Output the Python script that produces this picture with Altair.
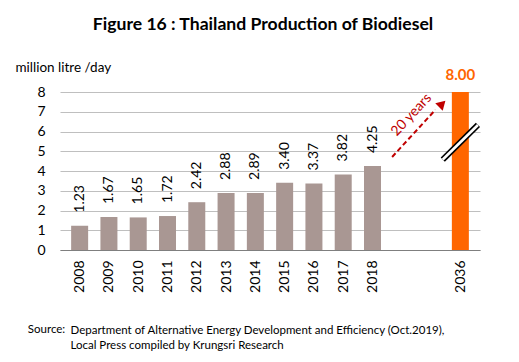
import altair as alt
import pandas as pd

# ---- data ----
years = ["2008", "2009", "2010", "2011", "2012", "2013", "2014",
         "2015", "2016", "2017", "2018", "2036"]
values = [1.23, 1.67, 1.65, 1.72, 2.42, 2.88, 2.89, 3.40, 3.37, 3.82, 4.25, 8.00]
slots = [0, 1, 2, 3, 4, 5, 6, 7, 8, 9, 10, 13]   # category slot (gap before 2036)
kind = ["actual"] * 11 + ["target"]
y_ticks = [0, 1, 2, 3, 4, 5, 6, 7, 8]

# annotation anchors (in slot / value units)
arrow_from = (10.67, 4.71)
arrow_to = (12.15, 7.10)
arrow_tip = (12.38, 7.40)
arrow_label = ("20 years", 11.33, 6.84)
break_from = (12.4, 4.58)
break_to = (13.6, 6.33)
source_anchor = ("Source:", -1.77, -3.75)

title_text = "Figure 16 : Thailand Production of Biodiesel"
y_title = "million litre /day"
source_lines = [
    "Department of Alternative Energy Development and Efficiency (Oct.2019),",
    "Local Press compiled by Krungsri Research",
]

FONT = "Lato"
BAR = "#a99793"
ORANGE = "#ff6600"
RED = "#c00000"

df = pd.DataFrame({"year": years, "value": values, "slot": slots, "kind": kind})

label_expr = "[" + ",".join(f"'{y}'" for y in years) + "][indexof([" + \
    ",".join(str(s) for s in slots) + "], datum.value)]"

x_scale = alt.Scale(domain=[-0.5, 13.5], nice=False, zero=False)
y_scale = alt.Scale(domain=[0, 8], nice=False)

x_axis = alt.Axis(values=slots, labelExpr=label_expr, grid=False, ticks=False,
                  domainColor="#7f7f7f", domainWidth=1.2, labelOverlap=False,
                  labelAngle=270, labelAlign="right", labelBaseline="middle",
                  labelPadding=10, labelFont=FONT, labelFontSize=14,
                  labelColor="#000000",
                  titleFont=FONT, titleFontSize=11.5,
                  titleFontWeight="normal", titleColor="#000000",
                  titleAlign="left", titleAnchor="start", titleBaseline="top",
                  titleX=10, titleY=74, titleLineHeight=15)
y_axis = alt.Axis(values=y_ticks, grid=True,
                  gridColor="#bfbfbf", domain=False, ticks=False,
                  labelOverlap=False,
                  labelPadding=15, labelFont=FONT, labelFontSize=14,
                  labelColor="#000000",
                  titleAngle=0, titleAlign="left",
                  titleBaseline="middle", titleX=-45, titleY=-25,
                  titleFont=FONT, titleFontSize=13.5, titleFontWeight="normal",
                  titleColor="#000000")


def X(f):
    return alt.X(f, scale=x_scale, axis=x_axis, title=source_lines)


def Y(f):
    return alt.Y(f, scale=y_scale, axis=y_axis, title=y_title)


base = alt.Chart(df)

bars = base.mark_bar(size=17).encode(
    x=X("slot:Q"), y=Y("value:Q"),
    color=alt.Color("kind:N", scale=alt.Scale(domain=["actual", "target"],
                                              range=[BAR, ORANGE]), legend=None),
)

labels = base.transform_filter(alt.datum.kind == "actual").mark_text(
    angle=270, align="left", baseline="middle", dx=13, font=FONT, fontSize=14,
    color="#000000"
).encode(x=X("slot:Q"), y=Y("value:Q"), text=alt.Text("value:Q", format=".2f"))

target_label = base.transform_filter(alt.datum.kind == "target").mark_text(
    align="center", baseline="bottom", dy=-9, font=FONT, fontSize=15,
    fontWeight="bold", color=ORANGE
).encode(x=X("slot:Q"), y=Y("value:Q"), text=alt.Text("value:Q", format=".2f"))

arrow_df = pd.DataFrame({"x": [arrow_from[0]], "y": [arrow_from[1]],
                         "x2": [arrow_to[0]], "y2": [arrow_to[1]]})
arrow_line = alt.Chart(arrow_df).mark_rule(
    color=RED, strokeWidth=2, strokeDash=[5, 3]
).encode(x=X("x:Q"), y=Y("y:Q"), x2="x2:Q", y2="y2:Q")

tip_df = pd.DataFrame({"x": [arrow_tip[0]], "y": [arrow_tip[1]]})
arrow_head = alt.Chart(tip_df).mark_point(
    shape="triangle-up", angle=45, size=110, filled=True, color=RED, opacity=1
).encode(x=X("x:Q"), y=Y("y:Q"))

lab_df = pd.DataFrame({"t": [arrow_label[0]], "x": [arrow_label[1]], "y": [arrow_label[2]]})
arrow_text = alt.Chart(lab_df).mark_text(
    angle=313, font=FONT, fontSize=14, color=RED, align="center", baseline="middle"
).encode(x=X("x:Q"), y=Y("y:Q"), text="t:N")

brk_df = pd.DataFrame({"x": [break_from[0]], "y": [break_from[1]],
                       "x2": [break_to[0]], "y2": [break_to[1]]})
brk_black = alt.Chart(brk_df).mark_rule(color="#000000", strokeWidth=6).encode(
    x=X("x:Q"), y=Y("y:Q"), x2="x2:Q", y2="y2:Q")
brk_white = alt.Chart(brk_df).mark_rule(color="#ffffff", strokeWidth=2.6).encode(
    x=X("x:Q"), y=Y("y:Q"), x2="x2:Q", y2="y2:Q")

src_df = pd.DataFrame({"t": [source_anchor[0]], "x": [source_anchor[1]], "y": [source_anchor[2]]})
source_label = alt.Chart(src_df).mark_text(
    font=FONT, fontSize=11.5, color="#000000", align="left", baseline="top"
).encode(x=X("x:Q"), y=Y("y:Q"), text="t:N")

chart = alt.layer(
    bars, labels, target_label, arrow_line, arrow_head, arrow_text, brk_black, brk_white,
    source_label
).properties(
    width=420, height=158,
    title=alt.TitleParams(title_text, font=FONT, fontSize=17.6, fontWeight="bold",
                          color="#000000", anchor="middle", dx=-7, offset=26),
    autosize=alt.AutoSizeParams(type="none"),
    padding={"left": 52, "top": 84, "right": 31, "bottom": 104},
).configure_view(stroke=None).configure_axis(labelOverlap=False)

chart.save("out.html", embed_options={"renderer": "svg", "actions": False})
